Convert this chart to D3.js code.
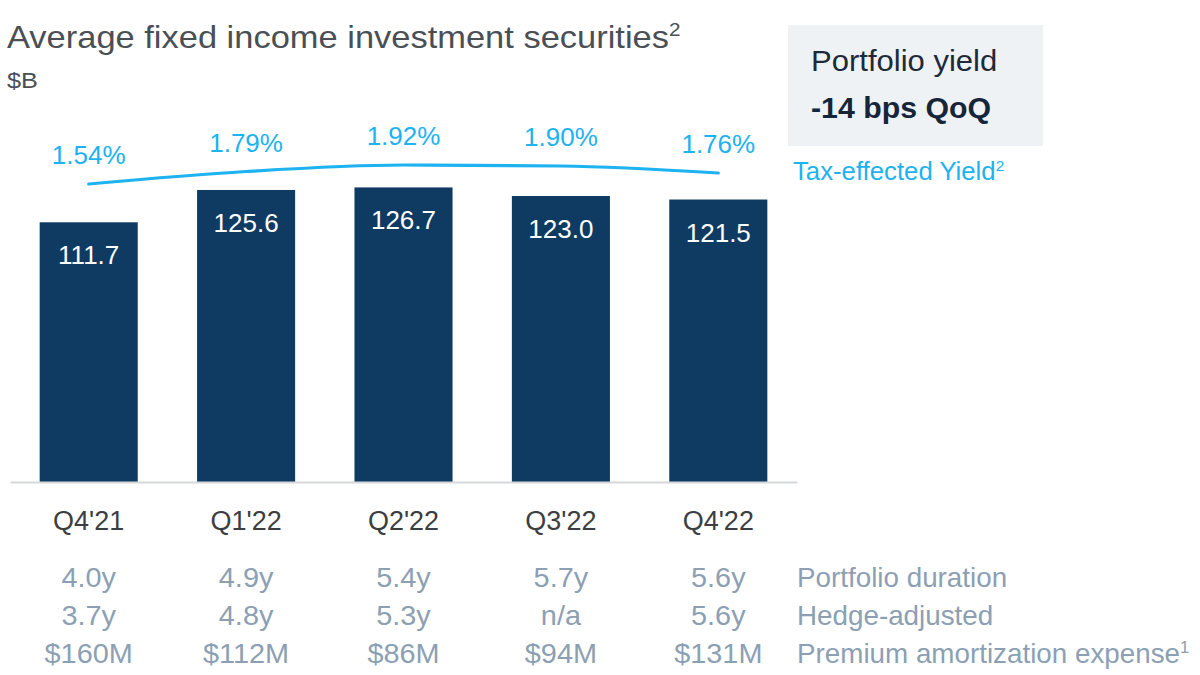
<!DOCTYPE html>
<html>
<head>
<meta charset="utf-8">
<script src="https://cdn.jsdelivr.net/npm/d3@7"></script>
<style>
  html, body { margin: 0; padding: 0; background: #ffffff; }
  svg { display: block; font-family: "Liberation Sans", Arial, Helvetica, sans-serif; }
</style>
</head>
<body>
<svg id="chart" width="1200" height="675"></svg>
<script>
// ---- Data ----
const categories = ["Q4'21", "Q1'22", "Q2'22", "Q3'22", "Q4'22"];
const securities = [111.7, 125.6, 126.7, 123.0, 121.5];
const yields = [1.54, 1.79, 1.92, 1.90, 1.76];
const duration = ["4.0y", "4.9y", "5.4y", "5.7y", "5.6y"];
const hedgeAdjusted = ["3.7y", "4.8y", "5.3y", "n/a", "5.6y"];
const premiumAmort = ["$160M", "$112M", "$86M", "$94M", "$131M"];
const rowLabels = ["Portfolio duration", "Hedge-adjusted", "Premium amortization expense"];
const rowSups = ["", "", "1"];
const tableRows = [duration, hedgeAdjusted, premiumAmort];

// ---- Colours ----
const NAVY = "#0f3b63";
const CYAN = "#1db2f0";
const TABLE = "#8c9fb3";

const svg = d3.select("#chart");

// helper: text with horizontal stretch around its anchor
function label(parent, x, y, str, o) {
  o = o || {};
  const t = parent.append("text")
    .attr("transform", `translate(${x},${y}) scale(${o.sx || 1},1)`)
    .attr("text-anchor", o.anchor || "start")
    .attr("font-size", o.size || 20)
    .attr("font-weight", o.weight || "normal")
    .attr("fill", o.fill || "#333");
  t.append("tspan").text(str);
  if (o.sup) {
    t.append("tspan").attr("font-size", (o.size || 20) * 0.6).attr("dy", -(o.size || 20) * 0.38).text(o.sup);
  }
  return t;
}

// ---- Scales ----
const x = d3.scaleBand().domain(categories).range([10, 797]).paddingInner(0.377).paddingOuter(0.1885);
const yBar = d3.scaleLinear().domain([0, 130]).range([482, 482 - 130 * 2.325]);
const yLine = d3.scaleLinear().domain([1.5, 2.0]).range([186, 161]);
const cx = c => x(c) + x.bandwidth() / 2;

// ---- Title ----
label(svg, 7, 48, "Average fixed income investment securities", { size: 30.5, sx: 1.13, fill: "#4a4f55", sup: "2" });
label(svg, 7, 88, "$B", { size: 22, sx: 1.15, fill: "#4a4f55" });

// ---- Bars ----
svg.append("g").selectAll("rect").data(securities).join("rect")
  .attr("x", (d, i) => x(categories[i]))
  .attr("y", d => yBar(d))
  .attr("width", x.bandwidth())
  .attr("height", d => yBar(0) - yBar(d))
  .attr("fill", NAVY);

svg.append("g").selectAll("text").data(securities).join("text")
  .attr("x", (d, i) => cx(categories[i]))
  .attr("y", d => yBar(d) + 42)
  .attr("text-anchor", "middle")
  .attr("font-size", 26)
  .attr("fill", "#ffffff")
  .text(d => d.toFixed(1));

// ---- Axis ----
const axis = svg.append("g")
  .attr("transform", `translate(0,${yBar(0)})`)
  .call(d3.axisBottom(x).tickSize(0).tickPadding(29));
axis.select(".domain").attr("stroke", "#d5d7da").attr("stroke-width", 2);
axis.selectAll("text")
  .attr("font-size", 27)
  .attr("font-family", "'Liberation Sans', Arial, sans-serif")
  .attr("fill", "#3b3e42");

// ---- Yield line ----
const line = d3.line()
  .x((d, i) => cx(categories[i]))
  .y(d => yLine(d))
  .curve(d3.curveMonotoneX);
svg.append("path").datum(yields)
  .attr("d", line)
  .attr("fill", "none")
  .attr("stroke", CYAN)
  .attr("stroke-width", 3.2)
  .attr("stroke-linecap", "round");

svg.append("g").selectAll("text").data(yields).join("text")
  .attr("x", (d, i) => cx(categories[i]))
  .attr("y", d => yLine(d) - 20)
  .attr("text-anchor", "middle")
  .attr("font-size", 26)
  .attr("fill", CYAN)
  .text(d => d.toFixed(2) + "%");

// ---- Portfolio yield box ----
svg.append("rect")
  .attr("x", 788).attr("y", 25).attr("width", 255).attr("height", 121)
  .attr("fill", "#eff2f5");
label(svg, 811, 71, "Portfolio yield", { size: 29, sx: 1.07, fill: "#1c2a3a" });
label(svg, 811, 118, "-14 bps QoQ", { size: 29, sx: 1.045, weight: "bold", fill: "#16263a" });
label(svg, 793, 180, "Tax-effected Yield", { size: 25, sx: 1.03, fill: CYAN, sup: "2" });

// ---- Table below ----
const rowY = [587, 625, 663];
tableRows.forEach((row, r) => {
  const g = svg.append("g");
  row.forEach((v, i) => {
    label(g, cx(categories[i]), rowY[r], v, { size: 27.5, sx: 1.05, anchor: "middle", fill: TABLE });
  });
  label(g, 797, rowY[r], rowLabels[r], { size: 27, sx: 1.03, fill: TABLE, sup: rowSups[r] || null });
});
</script>
</body>
</html>
